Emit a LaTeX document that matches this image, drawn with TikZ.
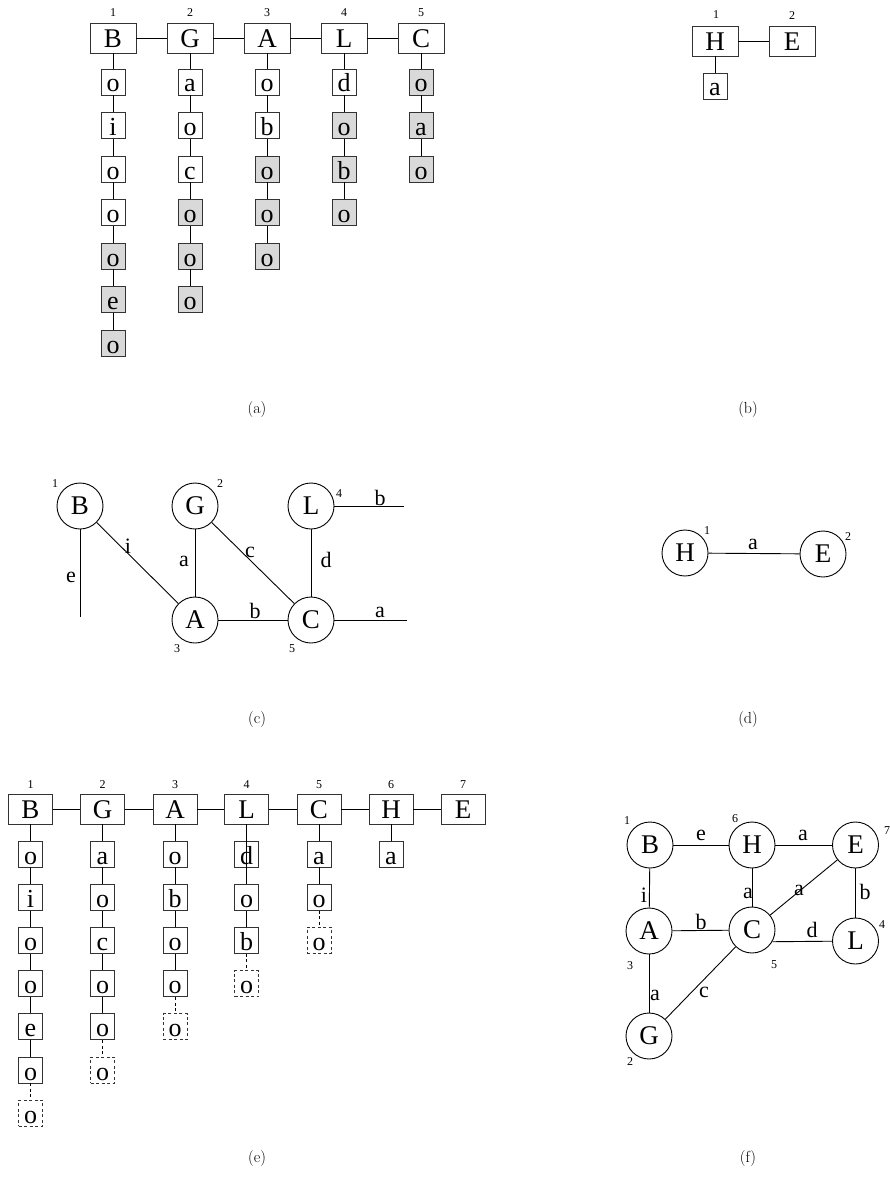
\documentclass[tikz,border=0pt]{standalone}
\usepackage{fontspec}
\newfontfamily\timesfont{Liberation Serif}
\usetikzlibrary{positioning,calc}

\begin{document}
\begin{tikzpicture}[x=1pt,y=-1pt,line width=0.9pt,
  headbox/.style={rectangle,draw=black!80,minimum width=46pt,minimum height=30pt,inner sep=0pt,
    font=\timesfont\fontsize{27}{27}\selectfont,text height=19pt,text depth=0pt},
  cellbox/.style={rectangle,draw=black!80,minimum width=24pt,minimum height=26pt,inner sep=0pt,
    font=\timesfont\fontsize{26}{26}\selectfont,text height=20pt,text depth=0pt},
  dashcell/.style={cellbox,dash pattern=on 3pt off 2.5pt},
  vert/.style={circle,draw,minimum size=46pt,inner sep=0pt,font=\timesfont\fontsize{27}{27}\selectfont},
  numlbl/.style={font=\timesfont\fontsize{12}{12}\selectfont,inner sep=0pt},
  edgelbl/.style={font=\timesfont\fontsize{22}{22}\selectfont,inner sep=0pt},
  caption/.style={font=\fontsize{16}{16}\selectfont,inner sep=0pt}]
\useasboundingbox (0,0) rectangle (889,1196);

% (a) lists of the first graph
\foreach \n/\x [count=\k] in {B/113,G/190,A/267,L/344,C/421} {
    \node[headbox] (a-\n-0) at (\x,38) {\n};
    \node[numlbl] (a-\n-num) at (\x,13) {\k};
}
\draw (a-B-0) -- (a-G-0) -- (a-A-0) -- (a-L-0) -- (a-C-0);
\foreach \n/\x/\g/\list in {B/113/5/{o,i,o,o,o,e,o},G/190/4/{a,o,c,o,o,o},A/267/3/{o,b,o,o,o},L/344/2/{d,o,b,o},C/421/1/{o,a,o}} {
    \foreach \c [count=\r] in \list {
        \pgfmathtruncatemacro\shade{\r<\g ? 0 : 15}
        \pgfmathtruncatemacro\prev{\r-1}
        \node[cellbox,fill=black!\shade] (a-\n-\r) at (\x,{82+43.5*(\r-1)}) {\c};
        \draw (a-\n-\prev) -- (a-\n-\r);
    }
}
\node[caption] (cap-a) at (257,410) {(a)};

% (b) lists of the second graph
\node[headbox] (b-H-0) at (715,41) {H};
\node[headbox] (b-E-0) at (792,41) {E};
\node[numlbl] (b-H-num) at (716,15) {1};
\node[numlbl] (b-E-num) at (792,16) {2};
\node[cellbox] (b-H-1) at (715,86) {a};
\draw (b-H-0) -- (b-E-0);
\draw (b-H-0) -- (b-H-1);
\node[caption] (cap-b) at (748,410) {(b)};

% (c) first graph
\node[vert] (c-B) at (80,506) {B};
\node[vert] (c-G) at (195,506) {G};
\node[vert] (c-L) at (311,506) {L};
\node[vert] (c-A) at (195,620) {A};
\node[vert] (c-C) at (311,620) {C};
\coordinate (c-Bend) at (80,617);
\coordinate (c-Lend) at (404,506);
\coordinate (c-Cend) at (407,620);
\draw (c-B) -- (c-Bend);
\draw (c-B) -- (c-A);
\draw (c-G) -- (c-A);
\draw (c-G) -- (c-C);
\draw (c-L) -- (c-C);
\draw (c-A) -- (c-C);
\draw (c-L) -- (c-Lend);
\draw (c-C) -- (c-Cend);
\node[numlbl] (c-B-num) at (55,484) {1};
\node[numlbl] (c-G-num) at (220,484) {2};
\node[numlbl] (c-L-num) at (339,494) {4};
\node[numlbl] (c-A-num) at (177,649) {3};
\node[numlbl] (c-C-num) at (292,649) {5};
\node[edgelbl] (c-e) at (71,577) {e};
\node[edgelbl] (c-i) at (128,546) {i};
\node[edgelbl] (c-a1) at (184,561) {a};
\node[edgelbl] (c-c) at (250,552) {c};
\node[edgelbl] (c-d) at (326,560) {d};
\node[edgelbl] (c-b1) at (255,611) {b};
\node[edgelbl] (c-b2) at (380,498) {b};
\node[edgelbl] (c-a2) at (380,612) {a};
\node[caption] (cap-c) at (257,720) {(c)};

% (d) second graph
\node[vert] (d-H) at (685,553) {H};
\node[vert] (d-E) at (823,554) {E};
\draw (d-H) -- (d-E);
\node[numlbl] (d-H-num) at (707,531) {1};
\node[numlbl] (d-E-num) at (848,537) {2};
\node[edgelbl] (d-a) at (753,544) {a};
\node[caption] (cap-d) at (748,720) {(d)};

% (e) merged lists
\foreach \n/\x [count=\k] in {B/30.5,G/102.5,A/175,L/246.5,C/319,H/391,E/463} {
    \node[headbox,minimum width=44pt] (e-\n-0) at (\x,809) {\n};
    \node[numlbl] (e-\n-num) at (\x,785) {\k};
}
\draw (e-B-0) -- (e-G-0) -- (e-A-0) -- (e-L-0) -- (e-C-0) -- (e-H-0) -- (e-E-0);
\foreach \n/\x/\list in {B/30.5/{o,i,o,o,e,o},G/102.5/{a,o,c,o,o},A/175/{o,b,o,o},L/246.5/{d,o,b},C/319/{a,o},H/391/{a}} {
    \foreach \c [count=\r] in \list {
        \pgfmathtruncatemacro\prev{\r-1}
        \node[cellbox] (e-\n-\r) at (\x,{854+43.2*(\r-1)}) {\c};
        \draw (e-\n-\prev) -- (e-\n-\r);
    }
}
\draw (e-L-1.north) -- (e-L-1.south);
% new entries
\foreach \n/\x/\m in {B/30.5/6,G/102.5/5,A/175/4,L/246.5/3,C/319/2} {
    \node[dashcell] (e-\n-new) at (\x,{854+43.2*\m}) {o};
    \draw[dash pattern=on 3pt off 2.5pt] (e-\n-\m) -- (e-\n-new);
}
\node[caption] (cap-e) at (257,1158) {(e)};

% (f) merged graph
\node[vert] (f-B) at (650,845) {B};
\node[vert] (f-H) at (752,845) {H};
\node[vert] (f-E) at (855.5,845) {E};
\node[vert] (f-A) at (649,931) {A};
\node[vert] (f-C) at (752,930) {C};
\node[vert] (f-L) at (855.5,941) {L};
\node[vert] (f-G) at (649,1036) {G};
\draw (f-B) -- (f-H);
\draw (f-H) -- (f-E);
\draw (f-B) -- (f-A);
\draw (f-H) -- (f-C);
\draw (f-C) -- (f-E);
\draw (f-E) -- (f-L);
\draw (f-A) -- (f-C);
\draw (f-C.-30) -- (f-L);
\draw (f-A) -- (f-G);
\draw (f-G) -- (f-C);
\node[numlbl] (f-B-num) at (627,821) {1};
\node[numlbl] (f-H-num) at (735,819) {6};
\node[numlbl] (f-E-num) at (887,831) {7};
\node[numlbl] (f-A-num) at (630,966) {3};
\node[numlbl] (f-C-num) at (774,965) {5};
\node[numlbl] (f-L-num) at (882,925) {4};
\node[numlbl] (f-G-num) at (630,1062) {2};
\node[edgelbl] (f-e) at (701,835) {e};
\node[edgelbl] (f-a1) at (803,835) {a};
\node[edgelbl] (f-i) at (644,895) {i};
\node[edgelbl] (f-a2) at (748,893) {a};
\node[edgelbl] (f-a3) at (799,890) {a};
\node[edgelbl] (f-b1) at (865,892) {b};
\node[edgelbl] (f-b2) at (701,922) {b};
\node[edgelbl] (f-d) at (812,930) {d};
\node[edgelbl] (f-a4) at (655,995) {a};
\node[edgelbl] (f-c) at (704,992) {c};
\node[caption] (cap-f) at (748,1158) {(f)};
\end{tikzpicture}
\end{document}
